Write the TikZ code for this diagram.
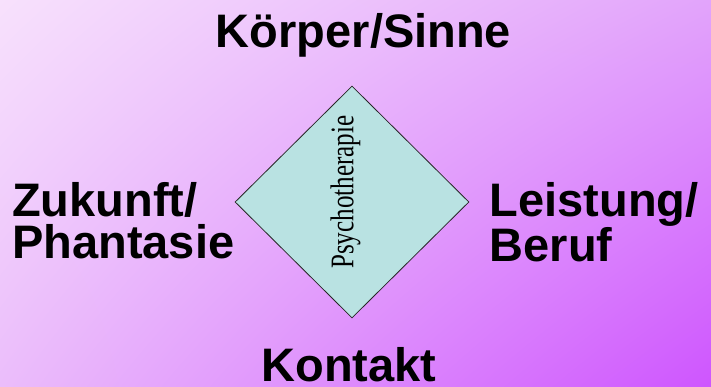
\documentclass[tikz,border=0pt]{standalone}
\usepackage{graphicx}
\usepackage{fontspec}
\setmainfont{Liberation Sans}
\newfontfamily\serifface{Liberation Serif}
\usetikzlibrary{shapes.geometric,shadings}

\definecolor{bgUL}{RGB}{247,225,252}
\definecolor{bgUR}{RGB}{226,164,251}
\definecolor{bgLL}{RGB}{235,189,251}
\definecolor{bgLR}{RGB}{206,85,254}
\definecolor{diafill}{RGB}{185,226,226}
\definecolor{diaedge}{RGB}{40,40,40}

\begin{document}
\begin{tikzpicture}[x=1pt,y=-1pt,
  area/.style={font=\fontsize{47}{41.5}\selectfont\bfseries, inner sep=0pt, text=black},
  centre/.style={diamond, draw=diaedge, line width=0.8pt, fill=diafill,
    minimum width=234pt, minimum height=232pt, inner sep=0pt},
  vertical/.style={rotate=90, anchor=base west, inner sep=0pt,
    font=\serifface\fontsize{33}{33}\selectfont}]

  % background
  \useasboundingbox (0,0) rectangle (711,387);
  \shade[upper left=bgUL, upper right=bgUR, lower left=bgLL, lower right=bgLR]
    (0,0) rectangle (711,387);

  % central diamond and its upright caption
  \node[centre] (dia) at (352,202) {};
  \node[vertical] (therapy) at (353.3,269) {\scalebox{0.76}[1]{Psychotherapie}};

  % the four areas around it
  \node[area, anchor=base] (top) at (363.5,48) {Körper/Sinne};
  \node[area, anchor=base] (bottom) at (349,381.5) {Kontakt};
  \node[area, anchor=base west] (left) at (12,216.5)
    {\vtop{\hbox{Zukunft/}\hbox{Phantasie}}};
  \node[area, anchor=base west] (right) at (489.5,216.5)
    {\vtop{\hbox{Leistung/}\hbox{Beruf}}};
\end{tikzpicture}
\end{document}
